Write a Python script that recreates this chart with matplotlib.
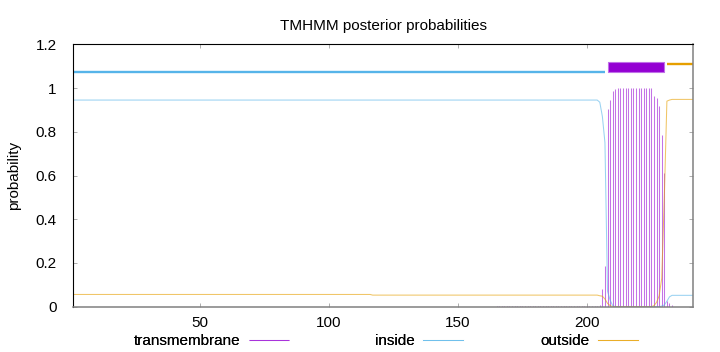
import numpy as np
import matplotlib
matplotlib.use("Agg")
import matplotlib.pyplot as plt

plt.rcParams['font.family'] = ['Liberation Sans', 'DejaVu Sans']

# ---------------- data ----------------
seq_len = 241
residues = np.arange(1, seq_len + 1)

# posterior probability of "inside"
inside_vals = ([0.945] * 204 +                      # 1-204
               [0.935, 0.87, 0.75, 0.07, 0.03, 0.005] +  # 205-210
               [0.0] * 18 +                          # 211-228
               [0.003, 0.008, 0.025, 0.045] +        # 229-232
               [0.052] * 9)                          # 233-241

# posterior probability of "outside"
outside_vals = ([0.056] * 116 +                      # 1-116
                [0.053] * 88 +                       # 117-204
                [0.05, 0.048, 0.035, 0.015, 0.005] + # 205-209
                [0.0] * 16 +                         # 210-225
                [0.005, 0.02, 0.05, 0.13, 0.5, 0.94, 0.945] +  # 226-232
                [0.948] * 9)                         # 233-241

# posterior probability of "transmembrane"
tm_vals = ([0.0] * 164 +                             # 1-164
           [0.004] * 40 +                            # 165-204
           [0.01, 0.082, 0.186] +                    # 205-207
           [0.903, 0.945, 0.988, 0.997] +            # 208-211
           [1.0] * 14 +                              # 212-225
           [0.964, 0.954, 0.918, 0.787, 0.613] +     # 226-230
           [0.027, 0.018, 0.008] +                   # 231-233
           [0.0] * 8)                                # 234-241

# predicted topology segments (start, end)
inside_seg = (1, 207)
tm_seg = (208, 230)
outside_seg = (231, 241)

x_ticks = [50, 100, 150, 200]
y_ticks = [0, 0.2, 0.4, 0.6, 0.8, 1.0, 1.2]
y_tick_labels = ['0', '0.2', '0.4', '0.6', '0.8', '1', '1.2']

# ---------------- style ----------------
c_tm = '#9400d3'
c_in = '#56b4e9'
c_out = '#e69f00'
FS = 11

fig = plt.figure(figsize=(7.2, 3.52), dpi=100)
ax = fig.add_axes([73.3 / 720, 1 - 306.7 / 352, (692.7 - 73.3) / 720, (306.7 - 44.3) / 352])

# posterior probabilities
h_tm = ax.vlines(residues, 0, tm_vals, colors=c_tm, linewidth=0.75, alpha=0.55,
                 label='transmembrane')
h_in, = ax.plot(residues, inside_vals, color=c_in, linewidth=0.75, alpha=0.6,
                label='inside')
h_out, = ax.plot(residues, outside_vals, color=c_out, linewidth=0.75, alpha=0.6,
                 label='outside')

# topology bars on top
ax.plot(inside_seg, [1.072, 1.072], color=c_in, linewidth=1.7,
        solid_capstyle='butt')
ax.fill_between(tm_seg, 1.072, 1.118, color=c_tm, linewidth=0.8,
                edgecolor='#c070e8')
ax.plot(outside_seg, [1.111, 1.111], color=c_out, linewidth=1.7,
        solid_capstyle='butt')

ax.set_xlim(1, seq_len)
ax.set_ylim(0, 1.2)
ax.set_xticks(x_ticks)
ax.set_xticklabels([str(t) for t in x_ticks])
ax.set_yticks(y_ticks)
ax.set_yticklabels(y_tick_labels)

ax.tick_params(axis='both', direction='in', length=3, width=0.6, color='#a0a0a0',
               labelsize=FS, labelcolor='black', top=True, right=True)
ax.tick_params(axis='y', pad=12)
ax.tick_params(axis='x', pad=7)

for s in ['left', 'top']:
    ax.spines[s].set_color('black')
    ax.spines[s].set_linewidth(0.8)
for s in ['bottom', 'right']:
    ax.spines[s].set_color('#808080')
    ax.spines[s].set_linewidth(1.1)

ax.set_title('TMHMM posterior probabilities', fontsize=FS, pad=10)
ax.set_ylabel('probability', fontsize=FS)
ax.yaxis.set_label_coords((21 - 73.3) / 619.4, 0.5)

# legend (gnuplot-style: text then sample, in one row)
ypos = 1 - 341 / 352
for h, lab, xr in [(h_tm, 'transmembrane', 289), (h_in, 'inside', 463),
                   (h_out, 'outside', 638)]:
    leg = fig.legend([h], [lab], loc='center right', bbox_to_anchor=(xr / 720, ypos),
                     frameon=False, markerfirst=False, fontsize=FS,
                     handlelength=2.6, handletextpad=0.55, borderpad=0,
                     borderaxespad=0)
    fig.add_artist(leg)

fig.savefig('out.png', dpi=100)
